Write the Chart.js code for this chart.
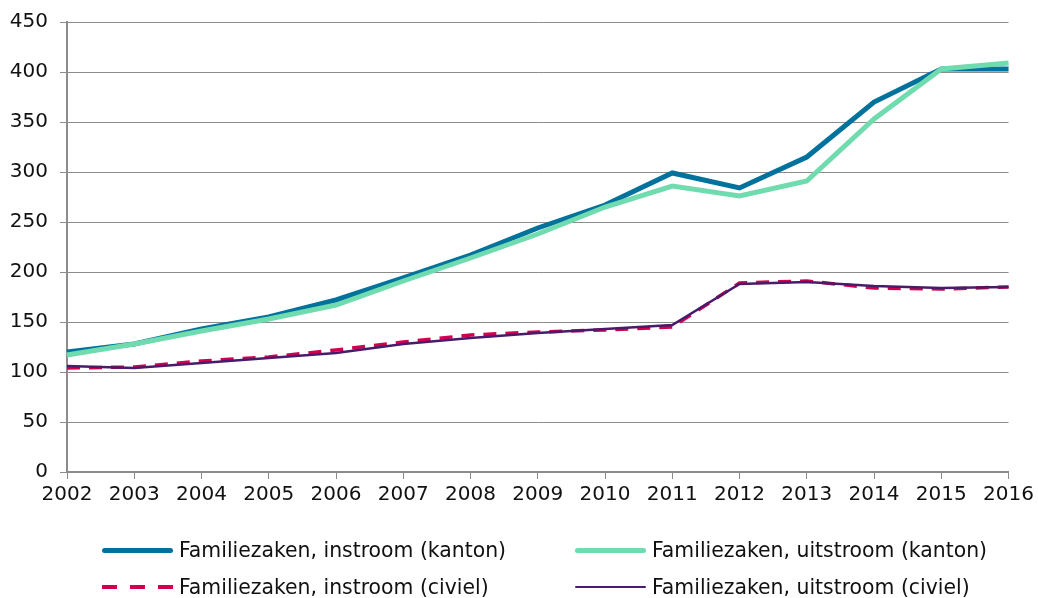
<!DOCTYPE html>
<html>
<head>
<meta charset="utf-8">
<script src="https://cdn.jsdelivr.net/npm/chart.js@4/dist/chart.umd.min.js"></script>
<style>
  html, body { margin: 0; padding: 0; background: #fff; }
  #wrap { position: relative; width: 1038px; height: 598px; }
  #c { position: absolute; left: 0; top: 0; }
  .lg { position: absolute; font-family: "DejaVu Sans", Verdana, sans-serif; font-size: 20.4px; color: #111; white-space: nowrap; line-height: 24px; }
  .sw { position: absolute; }
</style>
</head>
<body>
<div id="wrap">
  <canvas id="c" width="1038" height="598"></canvas>
  <div id="legend"></div>
</div>
<script>
const years = ['2002','2003','2004','2005','2006','2007','2008','2009','2010','2011','2012','2013','2014','2015','2016'];
const instroomKanton  = [120, 128, 143, 155, 172, 194, 217, 244, 267, 299, 284, 315, 370, 403, 403];
const uitstroomKanton = [117, 128, 141, 153, 167, 191, 214, 238, 265, 286, 276, 291, 353, 403, 409];
const instroomCiviel  = [104, 105, 111, 115, 122, 130, 137, 140, 142, 145, 189, 191, 184, 183, 185];
const uitstroomCiviel = [106, 104, 109, 114, 119, 128, 134, 139, 143, 147, 188, 190, 186, 184, 185];
const seriesNames = [
  'Familiezaken, instroom (kanton)',
  'Familiezaken, uitstroom (kanton)',
  'Familiezaken, instroom (civiel)',
  'Familiezaken, uitstroom (civiel)'
];
const yTicks = [0, 50, 100, 150, 200, 250, 300, 350, 400, 450];

const colBlue = '#00729c';
const colMint = '#6fdbae';
const colRed = '#d1004f';
const colPurple = '#4a1a6b';
const font = '"DejaVu Sans", Verdana, sans-serif';

new Chart(document.getElementById('c'), {
  type: 'line',
  data: {
    labels: years,
    datasets: [
      { label: seriesNames[0], data: instroomKanton, borderColor: colBlue, borderWidth: 5, pointRadius: 0, tension: 0, order: 4 },
      { label: seriesNames[1], data: uitstroomKanton, borderColor: colMint, borderWidth: 5, pointRadius: 0, tension: 0, order: 3 },
      { label: seriesNames[2], data: instroomCiviel, borderColor: colRed, borderWidth: 3.5, borderDash: [13, 9], pointRadius: 0, tension: 0, order: 2 },
      { label: seriesNames[3], data: uitstroomCiviel, borderColor: colPurple, borderWidth: 2.5, pointRadius: 0, tension: 0, order: 1 }
    ]
  },
  options: {
    responsive: false,
    animation: false,
    events: [],
    layout: { padding: { left: 0, top: 22, right: 27, bottom: 86 } },
    plugins: { legend: { display: false }, tooltip: { enabled: false } },
    scales: {
      x: {
        offset: false,
        grid: { display: true, drawOnChartArea: false, drawTicks: true, tickLength: 7, color: '#8c8c8c', lineWidth: 1 },
        border: { display: true, color: '#8c8c8c', width: 2 },
        ticks: { color: '#111', font: { family: font, size: 20 }, padding: 4, maxRotation: 0, autoSkip: false },
        afterFit: (s) => { s.height = 40; }
      },
      y: {
        min: 0, max: 450,
        afterBuildTicks: (s) => { s.ticks = yTicks.map(v => ({ value: v })); },
        grid: { color: '#8c8c8c', lineWidth: 1, drawTicks: true, tickLength: 7 },
        border: { display: true, color: '#8c8c8c', width: 2 },
        ticks: { color: '#111', font: { family: font, size: 20 }, padding: 12 },
        afterFit: (s) => { s.width = 67; s.paddingTop = 12; }
      }
    }
  }
});

// legend (HTML, 2x2 grid)
const legendItems = [
  { name: seriesNames[0], color: colBlue, width: 5, dash: false, x: 102, y: 550 },
  { name: seriesNames[1], color: colMint, width: 5, dash: false, x: 575, y: 550 },
  { name: seriesNames[2], color: colRed, width: 4, dash: true, x: 102, y: 587 },
  { name: seriesNames[3], color: colPurple, width: 2.5, dash: false, x: 575, y: 587 }
];
const lg = document.getElementById('legend');
legendItems.forEach(it => {
  const sw = document.createElement('div');
  sw.className = 'sw';
  sw.style.left = it.x + 'px';
  sw.style.top = (it.y - it.width / 2) + 'px';
  sw.style.width = '71px';
  sw.style.height = it.width + 'px';
  if (it.dash) {
    sw.style.background = `repeating-linear-gradient(to right, ${it.color} 0 15px, transparent 15px 28px)`;
  } else {
    sw.style.background = it.color;
    sw.style.borderRadius = (it.width / 2) + 'px';
  }
  lg.appendChild(sw);
  const t = document.createElement('div');
  t.className = 'lg';
  t.textContent = it.name;
  t.style.left = (it.x + 77) + 'px';
  t.style.top = (it.y - 12) + 'px';
  lg.appendChild(t);
});
</script>
</body>
</html>
